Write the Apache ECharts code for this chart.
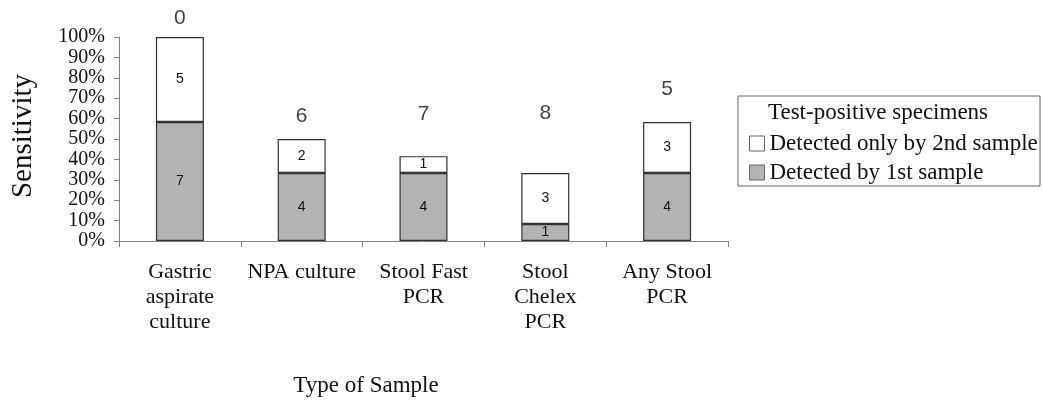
<!DOCTYPE html>
<html>
<head>
<meta charset="utf-8">
<script src="https://cdn.jsdelivr.net/npm/echarts@6/dist/echarts.min.js"></script>
<style>html,body{margin:0;padding:0;background:#fff;}#c{width:1042px;height:407px;}</style>
</head>
<body>
<div id="c"></div>
<script>
// ---- data ----
var categories = ['Gastric\naspirate\nculture', 'NPA culture', 'Stool Fast\nPCR', 'Stool\nChelex\nPCR', 'Any Stool\nPCR'];
var firstPct = [58.3, 33.3, 33.3, 8.3, 33.3];      // Detected by 1st sample (%)
var secondPct = [41.7, 16.7, 8.3, 25.0, 25.0];     // Detected only by 2nd sample (%)
var firstCounts = [7, 4, 4, 1, 4];
var secondCounts = [5, 2, 1, 3, 3];
var missedCounts = [0, 6, 7, 8, 5];                // numbers shown above bars
var missedLabelY = [109, 61, 62, 62.5, 74.5];      // where those numbers sit (axis units, %)
var yTicks = [0, 10, 20, 30, 40, 50, 60, 70, 80, 90, 100];

var serif = 'Liberation Serif';
var sans = 'Liberation Sans';

var chart = echarts.init(document.getElementById('c'));
chart.setOption({
  backgroundColor: '#ffffff',
  animation: false,
  textStyle: { fontFamily: serif },
  grid: { left: 119, right: 314, top: 37, bottom: 166 },
  legend: {
    orient: 'vertical',
    left: 744, top: 127,
    itemWidth: 15, itemHeight: 15, itemGap: 6,
    icon: 'rect',
    data: ['Detected only by 2nd sample', 'Detected by 1st sample'],
    textStyle: { fontFamily: serif, fontSize: 23, color: '#111' },
    itemStyle: { borderColor: '#666', borderWidth: 1 }
  },
  graphic: [
    { type: 'rect', shape: { x: 738, y: 96, width: 302, height: 90 }, style: { fill: 'none', stroke: '#666', lineWidth: 1 } },
    { type: 'text', x: 768, y: 113, style: { text: 'Test-positive specimens', fontFamily: serif, fontSize: 23, fill: '#111', textVerticalAlign: 'middle' } },
    { type: 'text', x: 366, y: 386, style: { text: 'Type of Sample', fontFamily: serif, fontSize: 23, fill: '#111', textAlign: 'center', textVerticalAlign: 'middle' } },
    { type: 'text', x: 23, y: 136, rotation: Math.PI / 2, style: { text: 'Sensitivity', fontFamily: serif, fontSize: 29, fill: '#111', textAlign: 'center', textVerticalAlign: 'middle' } }
  ],
  xAxis: {
    type: 'category',
    data: categories,
    axisLine: { lineStyle: { color: '#808080', width: 1 } },
    axisTick: { show: true, length: 6, lineStyle: { color: '#808080' } },
    axisLabel: { interval: 0, margin: 19, fontFamily: serif, fontSize: 22, lineHeight: 25, color: '#111' }
  },
  yAxis: {
    type: 'value',
    min: 0, max: 100, interval: 10,
    axisLine: { show: true, lineStyle: { color: '#808080', width: 1 } },
    axisTick: { show: true, length: 5, lineStyle: { color: '#808080' } },
    splitLine: { show: false },
    axisLabel: {
      margin: 14, fontFamily: serif, fontSize: 20, color: '#111',
      formatter: function (v) { return yTicks.indexOf(v) >= 0 ? v + '%' : ''; }
    }
  },
  series: [
    {
      name: 'Detected by 1st sample', type: 'bar', stack: 'a', barWidth: 48,
      data: firstPct,
      itemStyle: { color: '#b3b3b3', borderColor: '#333', borderWidth: 1.2 },
      label: { show: true, position: 'inside', fontFamily: sans, fontSize: 14, color: '#111',
        formatter: function (p) { return firstCounts[p.dataIndex]; } }
    },
    {
      name: 'Detected only by 2nd sample', type: 'bar', stack: 'a', barWidth: 48,
      data: secondPct,
      itemStyle: { color: '#ffffff', borderColor: '#333', borderWidth: 1.2 },
      label: { show: true, position: 'inside', fontFamily: sans, fontSize: 14, color: '#111',
        formatter: function (p) { return secondCounts[p.dataIndex]; } }
    },
    {
      name: 'missed', type: 'scatter', clip: false, symbolSize: 0, silent: true,
      data: missedLabelY.map(function (y, i) { return [i, y]; }),
      label: { show: true, position: 'inside', fontFamily: sans, fontSize: 21, color: '#111',
        formatter: function (p) { return missedCounts[p.dataIndex]; } }
    }
  ]
});
</script>
</body>
</html>
